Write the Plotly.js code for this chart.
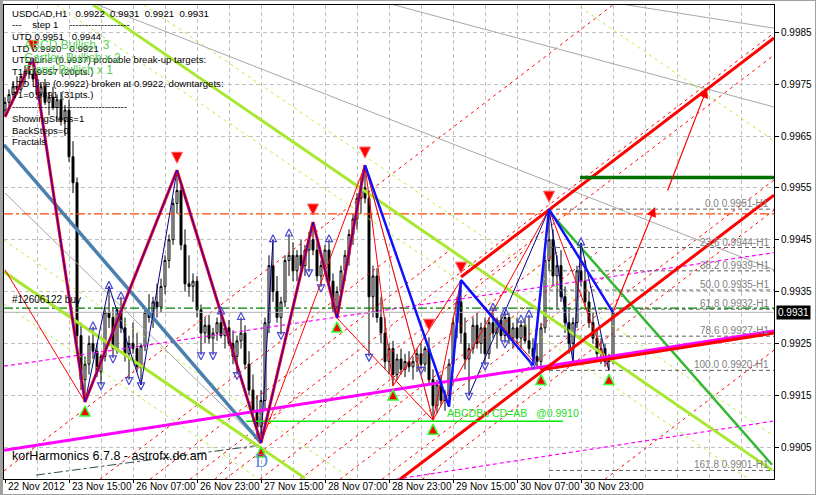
<!DOCTYPE html>
<html><head><meta charset="utf-8">
<script src="https://cdn.plot.ly/plotly-3.0.1.min.js"></script>
<style>
html,body{margin:0;padding:0;background:#fff;}
#wrap{position:relative;width:816px;height:495px;}
#chart{width:816px;height:495px;}
#frame{position:absolute;left:0;top:0;width:816px;height:495px;box-sizing:border-box;border:1px solid #a0a0a0;border-left:3px solid #a0a0a0;pointer-events:none;}
</style>
</head><body><div id="wrap"><div id="chart"></div><div id="frame"></div></div>
<script>
// ---------------- DATA ----------------
const barOpen  = [0.99700,0.99715,0.99730,0.99745,0.99740,0.99765,0.99775,0.99770,0.99760,0.99730,0.99745,0.99715,0.99725,0.99705,0.99720,0.99680,0.99700,0.99610,0.99560,0.99265,0.99180,
0.99210,0.99250,0.99235,0.99195,0.99225,0.99310,0.99300,0.99240,0.99315,0.99280,0.99230,0.99250,0.99240,0.99205,0.99245,
0.99310,0.99300,0.99330,0.99320,0.99360,0.99410,0.99450,0.99520,0.99545,0.99440,0.99365,0.99360,0.99370,0.99315,
0.99270,0.99285,0.99260,0.99270,0.99290,0.99265,0.99280,0.99250,0.99225,0.99255,0.99270,0.99210,0.99160,0.99120,0.99090,
0.99140,0.99290,0.99400,0.99350,0.99300,0.99330,0.99410,0.99420,0.99390,0.99420,0.99400,0.99430,0.99450,0.99430,0.99380,
0.99400,0.99430,0.99370,0.99320,0.99350,0.99390,0.99420,0.99460,0.99490,0.99530,0.99550,0.99530,0.99340,0.99380,0.99300,
0.99270,0.99215,0.99240,0.99190,0.99220,0.99200,0.99215,0.99205,0.99215,0.99230,0.99210,0.99240,0.99180,0.99130,0.99170,
0.99140,0.99150,0.99210,0.99290,0.99330,0.99270,0.99220,0.99240,0.99285,0.99250,0.99280,0.99230,0.99290,0.99270,0.99295,
0.99265,0.99300,0.99260,0.99280,0.99260,0.99285,0.99255,0.99240,0.99225,0.99215,0.99280,0.99410,0.99450,0.99380,0.99400,
0.99340,0.99290,0.99250,0.99290,0.99390,0.99370,0.99330,0.99290,0.99260,0.99230,0.99240,0.99215,0.99220];
const barHigh  = [0.99725,0.99740,0.99755,0.99765,0.99770,0.99785,0.99795,0.99800,0.99775,0.99750,0.99760,0.99735,0.99745,0.99730,0.99735,0.99710,0.99720,0.99640,0.99570,0.99290,0.99225,
0.99265,0.99282,0.99250,0.99230,0.99320,0.99360,0.99320,0.99320,0.99340,0.99300,0.99265,0.99290,0.99270,0.99250,0.99320,
0.99345,0.99340,0.99365,0.99375,0.99420,0.99460,0.99530,0.99584,0.99555,0.99470,0.99420,0.99385,0.99380,0.99325,
0.99300,0.99305,0.99280,0.99300,0.99311,0.99290,0.99295,0.99275,0.99265,0.99300,0.99285,0.99235,0.99190,0.99150,0.99160,
0.99300,0.99420,0.99450,0.99380,0.99340,0.99420,0.99461,0.99445,0.99430,0.99450,0.99440,0.99465,0.99484,0.99445,0.99410,
0.99440,0.99450,0.99385,0.99360,0.99400,0.99430,0.99470,0.99500,0.99540,0.99570,0.99594,0.99545,0.99400,0.99395,0.99340,
0.99300,0.99250,0.99255,0.99230,0.99240,0.99230,0.99235,0.99225,0.99240,0.99250,0.99245,0.99262,0.99200,0.99180,0.99190,
0.99160,0.99220,0.99300,0.99340,0.99372,0.99300,0.99250,0.99300,0.99310,0.99290,0.99300,0.99300,0.99318,0.99300,0.99305,
0.99310,0.99308,0.99290,0.99300,0.99295,0.99300,0.99305,0.99260,0.99250,0.99290,0.99420,0.99509,0.99470,0.99420,0.99430,
0.99360,0.99320,0.99300,0.99400,0.99444,0.99410,0.99350,0.99310,0.99280,0.99260,0.99250,0.99230,0.99310];
const barLow   = [0.99690,0.99705,0.99720,0.99730,0.99735,0.99750,0.99760,0.99755,0.99720,0.99705,0.99710,0.99690,0.99700,0.99680,0.99670,0.99650,0.99600,0.99540,0.99250,0.99160,0.99137,
0.99190,0.99220,0.99185,0.99170,0.99215,0.99280,0.99222,0.99230,0.99270,0.99215,0.99180,0.99230,0.99195,0.99170,0.99235,
0.99290,0.99280,0.99300,0.99310,0.99345,0.99395,0.99440,0.99500,0.99430,0.99350,0.99340,0.99330,0.99300,0.99228,
0.99250,0.99250,0.99228,0.99255,0.99260,0.99240,0.99245,0.99210,0.99190,0.99240,0.99200,0.99150,0.99100,0.99070,0.99058,
0.99120,0.99270,0.99330,0.99290,0.99267,0.99320,0.99380,0.99370,0.99370,0.99390,0.99380,0.99388,0.99420,0.99370,0.99359,
0.99390,0.99360,0.99310,0.99299,0.99340,0.99370,0.99400,0.99440,0.99470,0.99500,0.99520,0.99225,0.99300,0.99290,0.99250,
0.99200,0.99190,0.99168,0.99180,0.99190,0.99185,0.99195,0.99180,0.99195,0.99200,0.99195,0.99170,0.99102,0.99115,0.99130,
0.99120,0.99128,0.99200,0.99260,0.99250,0.99200,0.99150,0.99230,0.99240,0.99230,0.99208,0.99220,0.99260,0.99240,0.99255,
0.99251,0.99250,0.99240,0.99250,0.99240,0.99250,0.99230,0.99210,0.99205,0.99198,0.99270,0.99390,0.99360,0.99320,0.99330,
0.99270,0.99230,0.99214,0.99280,0.99360,0.99320,0.99280,0.99250,0.99220,0.99210,0.99205,0.99198,0.99210];
const barClose = [0.99715,0.99730,0.99745,0.99740,0.99765,0.99775,0.99770,0.99760,0.99730,0.99745,0.99715,0.99725,0.99705,0.99720,0.99680,0.99700,0.99610,0.99560,0.99265,0.99180,0.99210,
0.99250,0.99235,0.99195,0.99225,0.99310,0.99300,0.99240,0.99315,0.99280,0.99230,0.99250,0.99240,0.99205,0.99245,0.99310,
0.99300,0.99330,0.99320,0.99360,0.99410,0.99450,0.99520,0.99545,0.99440,0.99365,0.99360,0.99370,0.99315,0.99270,
0.99285,0.99260,0.99270,0.99290,0.99265,0.99280,0.99250,0.99225,0.99255,0.99270,0.99210,0.99160,0.99120,0.99090,0.99140,
0.99290,0.99400,0.99350,0.99300,0.99330,0.99410,0.99420,0.99390,0.99420,0.99400,0.99430,0.99450,0.99430,0.99380,0.99400,
0.99430,0.99370,0.99320,0.99350,0.99390,0.99420,0.99460,0.99490,0.99530,0.99550,0.99530,0.99340,0.99380,0.99300,0.99270,
0.99215,0.99240,0.99190,0.99220,0.99200,0.99215,0.99205,0.99215,0.99230,0.99210,0.99240,0.99180,0.99130,0.99170,0.99140,
0.99150,0.99210,0.99290,0.99330,0.99270,0.99220,0.99240,0.99285,0.99250,0.99280,0.99230,0.99290,0.99270,0.99295,0.99265,
0.99300,0.99260,0.99280,0.99260,0.99285,0.99255,0.99240,0.99225,0.99215,0.99280,0.99410,0.99450,0.99380,0.99400,0.99340,
0.99290,0.99250,0.99290,0.99390,0.99370,0.99330,0.99290,0.99260,0.99230,0.99240,0.99215,0.99220,0.99310];

const tickBars   = [0,16,32,48,64,80,96,112,128,144];
const tickLabels = ['22 Nov 2012','23 Nov 15:00','26 Nov 07:00','26 Nov 23:00','27 Nov 15:00','28 Nov 07:00','28 Nov 23:00','29 Nov 15:00','30 Nov 07:00','30 Nov 23:00'];
const priceTicks = [0.9905,0.9915,0.9925,0.9935,0.9945,0.9955,0.9965,0.9975,0.9985];

// fractals (bar indices)
const fractalUpBars   = [22,26,29,54,59,67,71,81,122,125,129,131,144];
const fractalDownBars = [24,27,31,34,49,52,58,69,76,79,91,104,116,120,125,132];
// zigzag pivots
const zzHighBars = [7,43,77,90,106,114,136];
const zzLowBars  = [20,64,83,97,107,134,151];

// main zigzag (bar, price)
const zigBars   = [0,7,20,43,64,77,83,90];
const zigPrices = [0.99687,0.99800,0.99137,0.99584,0.99058,0.99484,0.99299,0.99594];
const blueZigBars   = [90,111,114,132,136,152];
const blueZigPrices = [0.99594,0.99128,0.99372,0.99208,0.99509,0.99310];

// trend line segments [bar1, price1, bar2, price2]
const redThickSegs = [[98.75,0.98988,192.25,0.99536],[114,0.99378,192.25,0.99839],[134,0.99199,192.25,0.99270]];
const magentaThickSegs = [[-0.25,0.99044,192.25,0.99274]];
const magentaDashSegs = [[-0.25,0.99206,192.25,0.99425],[97.75,0.98988,192,0.99100]];
const steelBlueSegs = [[-0.25,0.99633,64,0.99058]];
const yellowGreenThickSegs = [[-0.25,0.99388,75,0.98990],[22,0.99903,191.75,0.99006]];
const yellowGreenDashSegs = [[-0.25,0.99449,86.75,0.98988],[-0.25,0.99326,63.5,0.98988],[34.75,0.99903,192.25,0.99071],[12.9,0.99903,186,0.98988],[143.75,0.99899,192,0.99642]];
const greenThickSegs = [[135.75,0.99507,191.75,0.99016]];
const grayThinSegs = [[0,0.99540,64,0.99058],[22.5,0.99905,192.25,0.99392],[96.25,0.99905,192.25,0.99706],[153.75,0.99905,192.25,0.99858],[90,0.99594,107,0.99102]];
const darkDashDotSegs = [[7.75,0.98996,64,0.99054]];
const redThinSegs = [[0,0.99392,20,0.99137],[64,0.99058,90,0.99594],[90,0.99594,97,0.99168],[90,0.99594,107,0.99102],[97,0.99168,114,0.99372],[107,0.99102,114,0.99372],[107,0.99102,136,0.99509],[114,0.99372,134,0.99199],[136,0.99509,151,0.99198],[83,0.99299,107,0.99102]];
const navyThinSegs = [[20,0.99137,26,0.99360],[26,0.99360,34,0.99170],[34,0.99170,43,0.99584],[64,0.99058,67,0.99450],[116,0.99150,136,0.99509],[136,0.99509,142,0.99214],[142,0.99214,144,0.99444],[144,0.99444,151,0.99198]];
const redDashSegs = [[-3,0.98988,152,0.99903],[46.25,0.98988,192.25,0.99849],[118.75,0.99372,192.25,0.99806],
  [94.25,0.98988,192.25,0.99565],[104.25,0.98988,192.25,0.99507],[150,0.98988,192.25,0.99237],
  [23.75,0.98988,98.75,0.99430],[36.25,0.98988,111.25,0.99430],[55,0.98988,130,0.99430],[63.75,0.98988,138.75,0.99430],
  [73.75,0.98988,148.75,0.99430],[83.75,0.98988,158.75,0.99430],[52.5,0.98988,73.75,0.99156]];

// horizontal levels
const orangeLevel = 0.99500;
const buyLevel = 0.99318;
const bidLevel = 0.99310;
const t1Level = 0.99570, t1FromBar = 143.75;
const abcdLevel = 0.99100, abcdFromBar = 60.25, abcdToBar = 139.5;
const fibFromBar = 136;
const fibLevels = [0.99509,0.99435,0.99390,0.99353,0.99316,0.99264,0.99198,0.99005];
const fibLabels = ['0.0 0.9951-H1','23.6 0.9944-H1','38.2 0.9939-H1','50.0 0.9935-H1','61.8 0.9932-H1','78.6 0.9927-H1','100.0 0.9920-H1','161.8 0.9901-H1'];

// arrows [fromBar, fromPrice, toBar, toPrice]
const targetArrows = [[152,0.99310,162.5,0.99513],[165.5,0.99542,175.5,0.99742]];

const infoLines = ['USDCAD,H1&nbsp;&nbsp; 0.9922&nbsp; 0.9931&nbsp; 0.9921&nbsp; 0.9931','---&nbsp;&nbsp;&nbsp; step 1&nbsp;&nbsp;&nbsp; -------------------','UTD 0.9951&nbsp;&nbsp; 0.9944','LTD 0.9920&nbsp;&nbsp; 0.9921','UTD Line (0.9937) probable break-up targets:','T1=0.9957 (20pts.)','LTD Line (0.9922) broken at 0.9922, downtargets:','T1=0.9891 (31pts.)','------------------------------------','ShowingSteps=1','BackSteps=0','Fractals'];
const patternLines = ['ABCD Bullish&nbsp; 3','Gartley Bullish x 2','Trend Bullish x 1'];

// ---------------- DRAW ----------------
const X0 = -0.25, X1 = 192.25;
const Y0 = 0.989885, Y1 = 0.999027;
const plotH = 474;
const pxP = (Y1 - Y0) / plotH;
const FONT = 'Liberation Sans, Arial, sans-serif';
const idx = barOpen.map((_, i) => i);

function segTrace(segs, line) {
  const x = [], y = [];
  segs.forEach(s => { x.push(s[0], s[2], null); y.push(s[1], s[3], null); });
  return {type:'scatter', mode:'lines', x, y, line, hoverinfo:'skip', showlegend:false};
}
function hLine(p, a, b, line) { return segTrace([[a, p, b, p]], line); }

const traces = [];
traces.push({type:'candlestick', x: idx, open: barOpen, high: barHigh, low: barLow, close: barClose,
  increasing:{line:{color:'#000', width:1}, fillcolor:'#ffffff'},
  decreasing:{line:{color:'#000', width:1}, fillcolor:'#000000'},
  whiskerwidth:0, hoverinfo:'skip', showlegend:false});

traces.push(segTrace(redDashSegs, {color:'#ff0000', width:1, dash:'3px,4px'}));
traces.push(segTrace(yellowGreenDashSegs, {color:'#b4f03c', width:1, dash:'3px,4px'}));
traces.push(segTrace(grayThinSegs, {color:'#a8a8a8', width:1}));
traces.push(segTrace(darkDashDotSegs, {color:'#2f4f4f', width:1, dash:'dashdot'}));
traces.push(segTrace(magentaDashSegs, {color:'#ff00ff', width:1.2, dash:'4px,3px'}));
traces.push(hLine(orangeLevel, X0, X1, {color:'#ff4500', width:1.2, dash:'9px,3px,3px,3px'}));
fibLevels.forEach(p => traces.push(hLine(p, fibFromBar, X1, {color:'#606060', width:1, dash:'4px,3px'})));
traces.push(hLine(bidLevel, X0, X1, {color:'#b0b0b0', width:1}));
traces.push(hLine(buyLevel, X0, X1, {color:'#008000', width:1.2, dash:'9px,3px,3px,3px'}));
traces.push(segTrace(steelBlueSegs, {color:'#4a7fae', width:3.5}));
traces.push(segTrace(yellowGreenThickSegs, {color:'#a8e830', width:3}));
traces.push(segTrace(greenThickSegs, {color:'#32b832', width:2.5}));
traces.push(segTrace(redThinSegs, {color:'#ff0000', width:1}));
traces.push(segTrace(navyThinSegs, {color:'#000090', width:1}));
traces.push(segTrace(magentaThickSegs, {color:'#ff00ff', width:3}));
traces.push(segTrace(redThickSegs, {color:'#ff0000', width:3}));
traces.push(hLine(t1Level, t1FromBar, X1, {color:'#007000', width:3.5}));
traces.push(hLine(abcdLevel, abcdFromBar, abcdToBar, {color:'#00ee00', width:1.5}));
traces.push({type:'scatter', mode:'lines', x: zigBars, y: zigPrices, line:{color:'#ff0000', width:3}, hoverinfo:'skip', showlegend:false});
traces.push({type:'scatter', mode:'lines', x: zigBars, y: zigPrices, line:{color:'#0000ff', width:1}, hoverinfo:'skip', showlegend:false});
traces.push({type:'scatter', mode:'lines', x: blueZigBars, y: blueZigPrices, line:{color:'#1010ff', width:2.5}, hoverinfo:'skip', showlegend:false});

// fractal arrows
traces.push({type:'scatter', mode:'markers', x: fractalUpBars, y: fractalUpBars.map(i => barHigh[i] + 5*pxP),
  marker:{symbol:'arrow-up-open', size:7, color:'#4848d8', line:{width:1.2}}, hoverinfo:'skip', showlegend:false});
traces.push({type:'scatter', mode:'markers', x: fractalDownBars, y: fractalDownBars.map(i => barLow[i] - 5*pxP),
  marker:{symbol:'arrow-down-open', size:7, color:'#4848d8', line:{width:1.2}}, hoverinfo:'skip', showlegend:false});
// zigzag markers
traces.push({type:'scatter', mode:'markers', x: zzHighBars, y: zzHighBars.map(i => barHigh[i] + 7*pxP),
  marker:{symbol:'arrow-down', size:11, color:'#ff0000', line:{color:'#ff6060', width:1}}, hoverinfo:'skip', showlegend:false});
traces.push({type:'scatter', mode:'markers', x: zzLowBars, y: zzLowBars.map(i => barLow[i] - 4*pxP),
  marker:{symbol:'arrow-up', size:10, color:'#ff0000', line:{color:'#33ff33', width:1.5}}, hoverinfo:'skip', showlegend:false});

const ann = [];
const pyPaper = py => 1 - (py - 5) / plotH;
infoLines.forEach((t, k) => ann.push({xref:'paper', yref:'paper', x:0.008, y:pyPaper(13 + k*11.7), xanchor:'left', yanchor:'middle',
  text:t, showarrow:false, font:{family:FONT, size:9.6, color:'#000'}}));
patternLines.forEach((t, k) => ann.push({xref:'paper', yref:'paper', x:0.024, y:pyPaper(45 + k*12.5), xanchor:'left', yanchor:'middle',
  text:t, showarrow:false, font:{family:FONT, size:12, color:'#5ccf5c'}}));
fibLevels.forEach((p, k) => ann.push({xref:'x', yref:'y', x:191.5, y:p, xanchor:'right', yanchor:'bottom', yshift:-2,
  text:fibLabels[k], showarrow:false, font:{family:FONT, size:10, color:'#808080'}}));
ann.push({xref:'paper', yref:'y', x:0.008, y:buyLevel, xanchor:'left', yanchor:'bottom', yshift:1, text:'#12606122 buy', showarrow:false, font:{family:FONT, size:10, color:'#000'}});
ann.push({xref:'x', yref:'y', x:110, y:abcdLevel, xanchor:'left', yanchor:'bottom', yshift:0, text:'ABCDBu CD=AB&nbsp;&nbsp; @0.9910', showarrow:false, font:{family:FONT, size:10.5, color:'#22dd22'}});
ann.push({xref:'paper', yref:'paper', x:0.008, y:pyPaper(456), xanchor:'left', yanchor:'middle', text:'korHarmonics 6.7.8 - astrofx.do.am', showarrow:false, font:{family:FONT, size:12.5, color:'#000'}});
ann.push({xref:'x', yref:'y', x:64, y:barLow[64], xanchor:'center', yanchor:'top', yshift:-6, text:'D', showarrow:false, font:{family:'Liberation Serif, DejaVu Serif, serif', size:18, color:'#5b8be0'}});
ann.push({xref:'paper', yref:'y', x:1, y:bidLevel, xanchor:'left', yanchor:'middle', xshift:2, text:'0.9931', showarrow:false, bgcolor:'#000', borderpad:1, font:{family:FONT, size:10, color:'#fff'}});
tickBars.forEach((b, k) => ann.push({xref:'x', yref:'paper', x:b, y:0, xanchor:'left', yanchor:'top', xshift:1, yshift:0,
  text:tickLabels[k], showarrow:false, font:{family:FONT, size:10, color:'#000'}}));
targetArrows.forEach(a => ann.push({xref:'x', yref:'y', axref:'x', ayref:'y', x:a[2], y:a[3], ax:a[0], ay:a[1], text:'', showarrow:true,
  arrowhead:2, arrowsize:1.6, arrowwidth:1.2, arrowcolor:'#ff0000'}));

const gridCol = '#c0c0c0';
const layout = {
  width:816, height:495,
  margin:{l:4, r:42, t:5, b:16, pad:0},
  paper_bgcolor:'#ffffff', plot_bgcolor:'#ffffff',
  showlegend:false, hovermode:false, dragmode:false,
  xaxis:{range:[X0, X1], tickmode:'array', tickvals:tickBars, showticklabels:false,
    ticks:'outside', ticklen:3, tickcolor:'#000', showgrid:true, gridcolor:gridCol, griddash:'4px,3px', gridwidth:1,
    minor:{tickmode:'linear', tick0:0, dtick:8, showgrid:true, gridcolor:gridCol, griddash:'4px,3px', ticks:''},
    showline:true, linecolor:'#000', linewidth:1, mirror:true, zeroline:false, rangeslider:{visible:false}, fixedrange:true},
  yaxis:{range:[Y0, Y1], side:'right', tickmode:'array', tickvals:priceTicks, ticktext:priceTicks.map(v => v.toFixed(4)),
    ticks:'outside', ticklen:4, tickcolor:'#000', showgrid:true, gridcolor:gridCol, griddash:'4px,3px', gridwidth:1,
    showline:true, linecolor:'#000', linewidth:1, mirror:true, zeroline:false, fixedrange:true,
    tickfont:{family:FONT, size:10, color:'#000'}},
  annotations: ann
};
Plotly.newPlot('chart', traces, layout, {staticPlot:true, displayModeBar:false});
</script>
</body></html>
